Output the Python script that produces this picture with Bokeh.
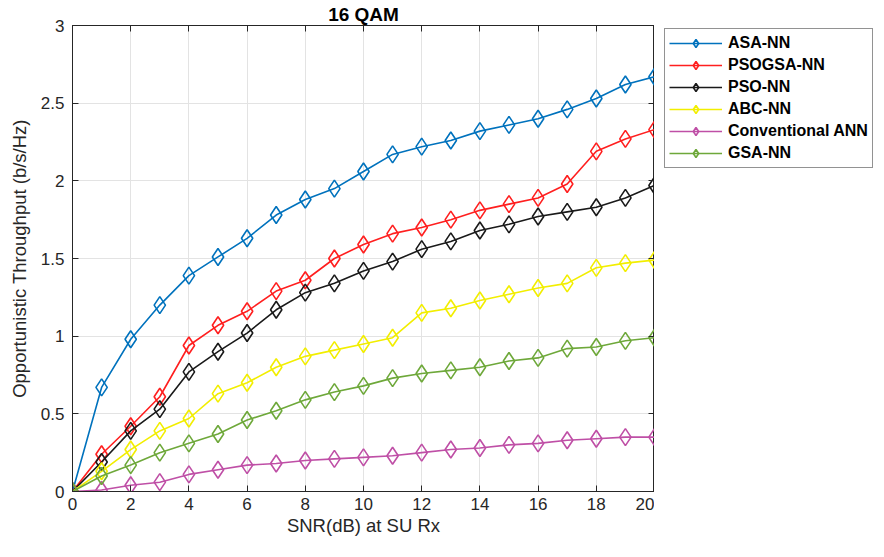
from bokeh.plotting import figure
from bokeh.layouts import row
from bokeh.models import Legend, LegendItem, LinearAxis, FixedTicker, Range1d, CustomJSTickFormatter
from bokeh.embed import file_html
from bokeh.resources import INLINE

snr = list(range(0, 21))
asa_nn = [0, 0.67, 0.98, 1.20, 1.39, 1.51, 1.63, 1.78, 1.88, 1.95, 2.06, 2.17, 2.22, 2.26, 2.32, 2.36, 2.40, 2.46, 2.53, 2.62, 2.67]
psogsa_nn = [0, 0.24, 0.42, 0.61, 0.94, 1.07, 1.16, 1.29, 1.36, 1.50, 1.59, 1.66, 1.70, 1.75, 1.81, 1.85, 1.89, 1.98, 2.19, 2.27, 2.33]
pso_nn = [0, 0.19, 0.39, 0.53, 0.77, 0.90, 1.02, 1.17, 1.28, 1.34, 1.42, 1.48, 1.56, 1.61, 1.68, 1.72, 1.77, 1.80, 1.83, 1.89, 1.97]
abc_nn = [0, 0.13, 0.27, 0.39, 0.47, 0.63, 0.70, 0.80, 0.87, 0.91, 0.95, 0.99, 1.15, 1.18, 1.23, 1.27, 1.31, 1.34, 1.44, 1.47, 1.49]
conv_ann = [0, 0.01, 0.04, 0.06, 0.11, 0.14, 0.17, 0.18, 0.20, 0.21, 0.22, 0.23, 0.25, 0.27, 0.28, 0.30, 0.31, 0.33, 0.34, 0.35, 0.35]
gsa_nn = [0, 0.10, 0.17, 0.25, 0.31, 0.37, 0.46, 0.52, 0.59, 0.64, 0.68, 0.73, 0.76, 0.78, 0.80, 0.84, 0.86, 0.92, 0.93, 0.97, 0.99]

series_names = ["ASA-NN", "PSOGSA-NN", "PSO-NN", "ABC-NN", "Conventional ANN", "GSA-NN"]
series_vals = [asa_nn, psogsa_nn, pso_nn, abc_nn, conv_ann, gsa_nn]
series_colors = ["#0072BD", "#FF1F1F", "#1A1A1A", "#F2EE00", "#BF4FA6", "#6EA83A"]

x_ticks = list(range(0, 21, 2))
y_ticks = [0, 0.5, 1, 1.5, 2, 2.5, 3]
y_tick_labels = ["0", "0.5", "1", "1.5", "2", "2.5", "3"]

FONT = "Liberation Sans"
AX = "#262626"

p = figure(frame_width=582, frame_height=466, output_backend="svg", toolbar_location=None,
           x_range=Range1d(0, 20), y_range=Range1d(0, 3),
           title="16 QAM", min_border_left=72, min_border_top=0, min_border_right=0,
           min_border_bottom=0)
p.background_fill_color = "white"
p.border_fill_color = "white"
p.outline_line_color = AX
p.title.align = "center"
p.title.text_font = FONT
p.title.text_font_size = "19px"
p.title.text_font_style = "bold"
p.title.text_color = "#000000"
p.title.offset = 0
p.title.standoff = 2

p.xaxis.axis_label = "SNR(dB) at SU Rx"
p.yaxis.axis_label = "Opportunistic Throughput (b/s/Hz)"
for ax in (p.xaxis[0], p.yaxis[0]):
    ax.axis_label_text_font = FONT
    ax.axis_label_text_font_size = "18.5px"
    ax.axis_label_text_font_style = "normal"
    ax.axis_label_text_color = AX
    ax.major_label_text_font = FONT
    ax.major_label_text_font_size = "17px"
    ax.major_label_text_color = AX
    ax.axis_line_color = AX
    ax.major_tick_line_color = AX
    ax.major_tick_in = 6
    ax.major_tick_out = 0
    ax.minor_tick_line_color = None
p.xaxis.ticker = FixedTicker(ticks=x_ticks)
p.yaxis.ticker = FixedTicker(ticks=y_ticks)
p.yaxis.major_label_overrides = {t: l for t, l in zip(y_ticks, y_tick_labels)}
p.xaxis.axis_label_standoff = 2
p.yaxis.axis_label_standoff = 8
p.xaxis.major_label_standoff = 6
p.yaxis.major_label_standoff = 8

for loc, ticks in (("above", x_ticks), ("right", y_ticks)):
    a = LinearAxis(ticker=FixedTicker(ticks=ticks),
                   formatter=CustomJSTickFormatter(code="return ''"),
                   major_label_text_font_size="1px",
                   axis_line_color=AX, major_tick_line_color=AX, major_tick_in=6,
                   major_tick_out=0, minor_tick_line_color=None, major_label_standoff=0)
    p.add_layout(a, loc)

p.xgrid.ticker = FixedTicker(ticks=x_ticks)
p.ygrid.ticker = FixedTicker(ticks=y_ticks)
p.grid.grid_line_color = "#e3e3e3"
p.grid.grid_line_width = 1

# legend figure: holds the legend box to the right of the axes
lf = figure(width=225, height=540, output_backend="svg", toolbar_location=None,
            x_range=Range1d(-40, -39), y_range=Range1d(-40, -39),
            min_border_left=0, min_border_right=0, min_border_top=0, min_border_bottom=0)
lf.axis.visible = False
lf.grid.visible = False
lf.outline_line_color = None
lf.background_fill_color = "white"
lf.border_fill_color = "white"

items = []
for name, vals, col in zip(series_names, series_vals, series_colors):
    p.line(snr, vals, line_color=col, line_width=1.6)
    p.scatter(snr, vals, marker="diamond", size=17, line_color=col, line_width=1.6,
              fill_alpha=0)
    l1 = lf.line(snr, vals, line_color=col, line_width=1.6)
    l2 = lf.scatter(snr, vals, marker="diamond", size=15, line_color=col, line_width=1.6,
                    fill_alpha=0)
    items.append(LegendItem(label=name, renderers=[l1, l2]))

legend = Legend(items=items, location=(10, 325))
legend.label_text_font = FONT
legend.label_text_font_size = "16px"
legend.label_text_font_style = "bold"
legend.label_text_color = "#000000"
legend.border_line_color = AX
legend.border_line_width = 1
legend.glyph_width = 53
legend.glyph_height = 20
legend.spacing = 2
legend.label_standoff = 6
legend.padding = 4
legend.margin = 0
legend.background_fill_color = "white"
lf.add_layout(legend, "center")

layout = row(p, lf)
open("out.html", "w").write(file_html(layout, INLINE))
